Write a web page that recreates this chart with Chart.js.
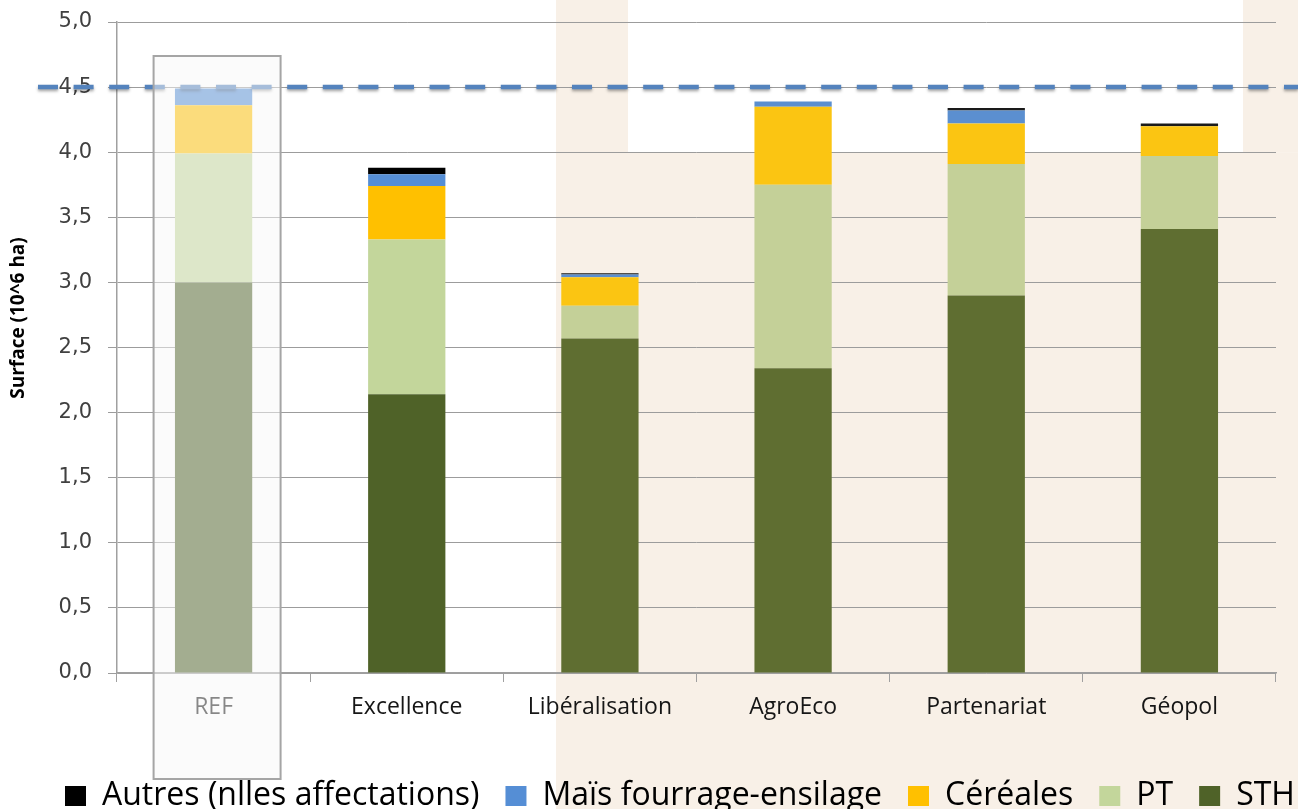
<!DOCTYPE html>
<html>
<head>
<meta charset="utf-8">
<script src="https://cdn.jsdelivr.net/npm/chart.js@4"></script>
<style>
html,body{margin:0;padding:0;background:#fff;overflow:hidden;}
#wrap{width:1298px;height:809px;position:relative;}
</style>
</head>
<body>
<div id="wrap"><canvas id="c"></canvas></div>
<script>
// ---- data ----
const categories = ['REF', 'Excellence', 'Libéralisation', 'AgroEco', 'Partenariat', 'Géopol'];
const sth      = [3.00, 2.14, 2.57, 2.34, 2.90, 3.41];
const pt       = [0.99, 1.19, 0.25, 1.41, 1.01, 0.56];
const cereales = [0.37, 0.41, 0.22, 0.60, 0.31, 0.23];
const mais     = [0.13, 0.09, 0.02, 0.04, 0.10, 0.00];
const autres   = [0.00, 0.05, 0.01, 0.00, 0.02, 0.02];
const seriesNames = ['STH', 'PT', 'Céréales', 'Maïs fourrage-ensilage', 'Autres (nlles affectations)'];
const refLine = 4.5;
const yMin = 0, yMax = 5, yStep = 0.5;
const yTitle = 'Surface (10^6 ha)';

// ---- styles ----
const mainColors = ['#4f6228', '#c3d69b', '#ffc000', '#558ed5', '#000000'];
const beigeColors = ['#5f6e31', '#c4d098', '#fbc512', '#5b8fd0', '#1a1a1a'];
const BEIGE = '#f8f0e7';
const sans = "'Open Sans', 'Noto Sans', sans-serif";
const LEG_PAD = 26;

function colorFn(i) {
  return (ctx) => {
    const d = ctx.dataIndex;
    if (d === undefined || d < 2) return mainColors[i];
    return beigeColors[i];
  };
}

const bgPlugin = {
  id: 'bg',
  beforeDraw(chart) {
    const c = chart.ctx;
    const y4 = chart.scales.y.getPixelForValue(4);
    c.save();
    c.fillStyle = '#ffffff';
    c.fillRect(0, 0, chart.width, chart.height);
    c.fillStyle = BEIGE;
    c.fillRect(556, y4, chart.width - 556, chart.height - y4);
    c.fillRect(556, 0, 72, y4);
    c.fillRect(1243, 0, chart.width - 1243, y4);
    c.restore();
  }
};

const legendShift = {
  id: 'legendShift',
  afterLayout(chart) {
    const lg = chart.legend;
    if (!lg) return;
    const w = lg.right - lg.left;
    lg.left = 65 - LEG_PAD;
    lg.right = lg.left + w;
    lg.top += 13;
    lg.bottom += 13;
  }
};

const yTitlePlugin = {
  id: 'yTitle',
  afterDraw(chart) {
    const c = chart.ctx;
    c.save();
    c.translate(19, 318);
    c.rotate(-Math.PI / 2);
    c.fillStyle = '#000';
    c.font = "bold 19px " + sans;
    c.textAlign = 'center';
    c.textBaseline = 'middle';
    c.fillText(yTitle, 0, 0);
    c.restore();
  }
};

const refLinePlugin = {
  id: 'refLine',
  afterDatasetsDraw(chart) {
    const c = chart.ctx;
    const y = chart.scales.y.getPixelForValue(refLine);
    c.save();
    c.strokeStyle = '#5483bd';
    c.lineWidth = 4.5;
    c.setLineDash([20, 15.6]);
    c.shadowColor = 'rgba(0,0,0,0.35)';
    c.shadowBlur = 3;
    c.shadowOffsetY = 2;
    c.beginPath();
    c.moveTo(38, y);
    c.lineTo(chart.width, y);
    c.stroke();
    c.restore();
  }
};

const refBoxPlugin = {
  id: 'refBox',
  afterDraw(chart) {
    const c = chart.ctx;
    const xc = chart.scales.x.getPixelForValue(0);
    const x0 = xc - 60, x1 = xc + 67, y0 = 56, y1 = 779;
    c.save();
    c.fillStyle = 'rgba(248,248,248,0.5)';
    c.fillRect(x0, y0, x1 - x0, y1 - y0);
    c.strokeStyle = '#a5a5a5';
    c.lineWidth = 2;
    c.strokeRect(x0, y0, x1 - x0, y1 - y0);
    c.restore();
  }
};

const seriesData = [sth, pt, cereales, mais, autres];
const datasets = seriesData.map((d, i) => ({
  label: seriesNames[i],
  data: d,
  backgroundColor: colorFn(i),
  borderWidth: 0,
  categoryPercentage: 1,
  barPercentage: 0.4,
  stack: 's'
}));

new Chart(document.getElementById('c'), {
  type: 'bar',
  data: { labels: categories, datasets },
  options: {
    responsive: true,
    maintainAspectRatio: false,
    animation: false,
    layout: { padding: { top: 22, right: 0, left: 0, bottom: 0 } },
    plugins: {
      tooltip: { enabled: false },
      legend: {
        position: 'bottom',
        align: 'start',
        reverse: true,
        labels: {
          color: '#111',
          font: { family: sans, size: 32 },
          boxWidth: 21,
          boxHeight: 20,
          padding: LEG_PAD,
          generateLabels(chart) {
            return chart.data.datasets.map((ds, i) => ({
              text: ds.label,
              fillStyle: mainColors[i],
              strokeStyle: mainColors[i],
              lineWidth: 0,
              datasetIndex: i,
              hidden: false
            }));
          }
        }
      }
    },
    scales: {
      x: {
        stacked: true,
        grid: { display: true, drawOnChartArea: false, offset: true, tickLength: 9, color: '#a0a0a0' },
        border: { color: '#a0a0a0', width: 1.5 },
        ticks: { color: '#161616', font: { family: sans, size: 23 }, padding: 12 },
        afterFit(s) { s.height = 68; }
      },
      y: {
        stacked: true,
        min: yMin, max: yMax,
        grid: { color: '#9c9c9c', tickLength: 9, lineWidth: 1 },
        border: { color: '#a0a0a0', width: 1.5 },
        ticks: {
          stepSize: yStep,
          color: '#404040',
          font: { family: "'DejaVu Sans', sans-serif", size: 21, lineHeight: 0.5 },
          padding: 16,
          callback: (v) => Number(v).toFixed(1).replace('.', ',')
        },
        title: { display: false, text: yTitle },
        afterFit(s) { s.width = 117; }
      },
      spacer: {
        type: 'linear',
        position: 'right',
        display: true,
        min: 0, max: 1,
        grid: { display: false, drawOnChartArea: false },
        border: { display: false },
        ticks: { display: false },
        afterFit(s) { s.width = 22; }
      }
    }
  },
  plugins: [bgPlugin, legendShift, refLinePlugin, refBoxPlugin, yTitlePlugin]
});
</script>
</body>
</html>
